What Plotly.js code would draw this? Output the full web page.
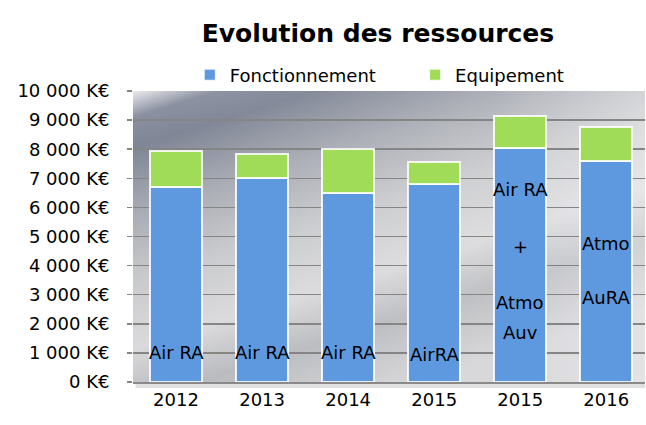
<!DOCTYPE html>
<html>
<head>
<meta charset="utf-8">
<script src="https://cdn.plot.ly/plotly-3.0.1.min.js"></script>
<style>html,body{margin:0;padding:0;background:#fff;}</style>
</head>
<body>
<div id="chart" style="width:646px;height:425px;"></div>
<script>
// ---- data ----
var categories = ["2012", "2013", "2014", "2015", "2015", "2016"];
var fonctionnement = [6700, 7000, 6500, 6800, 8050, 7600];
var equipement = [1250, 850, 1500, 750, 1100, 1150];
var seriesNames = ["Fonctionnement", "Equipement"];
var yTicks = [0, 1000, 2000, 3000, 4000, 5000, 6000, 7000, 8000, 9000, 10000];
var yTickText = ["0 K€", "1 000 K€", "2 000 K€", "3 000 K€", "4 000 K€", "5 000 K€",
                 "6 000 K€", "7 000 K€", "8 000 K€", "9 000 K€", "10 000 K€"];

// labels written inside the bars: [category index, y value, text]
var labelIndex = [0, 1, 2, 3, 4, 4, 4, 4, 5, 5];
var labelY = [1030, 1030, 1030, 930, 6600, 4650, 2720, 1690, 4750, 2890];
var labelText = ["Air RA", "Air RA", "Air RA", "AirRA", "Air RA", "+", "Atmo", "Auv", "Atmo", "AuRA"];

var idx = categories.map(function (c, i) { return i; });

var FONT = "DejaVu Sans, Verdana, sans-serif";
var blue = "#5E99E0";
var green = "#A0DC58";

var traces = [
  {
    type: "bar", name: seriesNames[0], x: idx, y: fonctionnement,
    width: 0.6, legend: "legend",
    marker: { color: blue, line: { color: "rgba(255,255,255,0.85)", width: 2 } },
    hoverinfo: "skip"
  },
  {
    type: "bar", name: seriesNames[1], x: idx, y: equipement,
    width: 0.6, legend: "legend2",
    marker: { color: green, line: { color: "rgba(255,255,255,0.85)", width: 2 } },
    hoverinfo: "skip"
  }
];

var bgSvg = '<svg xmlns="http://www.w3.org/2000/svg" viewBox="0 0 100 100" preserveAspectRatio="none">' +
  '<defs>' +
  '<linearGradient id="g" x1="0" y1="0" x2="0.55" y2="1">' +
  '<stop offset="0" stop-color="#ececee"/>' +
  '<stop offset="0.07" stop-color="#8a90a0"/>' +
  '<stop offset="0.15" stop-color="#7f8595"/>' +
  '<stop offset="0.32" stop-color="#a8abb3"/>' +
  '<stop offset="0.5" stop-color="#c9cacd"/>' +
  '<stop offset="0.68" stop-color="#dadadc"/>' +
  '<stop offset="0.82" stop-color="#b9babe"/>' +
  '<stop offset="1" stop-color="#d4d4d6"/>' +
  '</linearGradient>' +
  '<linearGradient id="h" x1="0" y1="0" x2="1" y2="0">' +
  '<stop offset="0" stop-color="#ffffff" stop-opacity="0"/>' +
  '<stop offset="0.7" stop-color="#ffffff" stop-opacity="0.1"/>' +
  '<stop offset="1" stop-color="#ffffff" stop-opacity="0.35"/>' +
  '</linearGradient>' +
  '</defs>' +
  '<rect x="0" y="0" width="100" height="100" fill="url(#g)"/>' +
  '<rect x="0" y="0" width="100" height="100" fill="url(#h)"/>' +
  '</svg>';
var bgUri = "data:image/svg+xml;charset=utf-8," + encodeURIComponent(bgSvg);

var annotations = labelText.map(function (t, i) {
  return {
    x: labelIndex[i], y: labelY[i], xref: "x", yref: "y",
    text: t, showarrow: false,
    font: { family: FONT, size: 18, color: "#000" }
  };
});

var legendFont = { family: FONT, size: 18, color: "#000" };

var layout = {
  width: 646, height: 425,
  margin: { l: 133, r: 1, t: 91, b: 43, pad: 0 },
  paper_bgcolor: "#ffffff",
  plot_bgcolor: "rgba(0,0,0,0)",
  barmode: "stack",
  showlegend: true,
  title: {
    text: "<b>Evolution des ressources</b>",
    font: { family: FONT, size: 25, color: "#000" },
    x: 0.585, xanchor: "center", xref: "container",
    y: 0.922, yanchor: "middle", yref: "container"
  },
  legend: {
    orientation: "h", x: 0.111, xanchor: "left", y: 1.055, yanchor: "middle",
    font: legendFont, bgcolor: "rgba(0,0,0,0)"
  },
  legend2: {
    orientation: "h", x: 0.551, xanchor: "left", y: 1.055, yanchor: "middle",
    font: legendFont, bgcolor: "rgba(0,0,0,0)"
  },
  xaxis: {
    range: [-0.5, 5.45],
    tickvals: idx, ticktext: categories,
    showgrid: false, zeroline: false,
    showline: true, linecolor: "#8a8a8a", linewidth: 2,
    ticks: "", fixedrange: true,
    tickfont: { family: FONT, size: 18, color: "#000" }
  },
  yaxis: {
    range: [0, 10000],
    tickmode: "array", tickvals: yTicks, ticktext: yTickText,
    showgrid: true, gridcolor: "#858585", gridwidth: 1.5,
    zeroline: false, showline: false,
    ticks: "outside", ticklen: 5, tickcolor: "#858585", tickwidth: 1.5,
    ticklabelstandoff: 14,
    fixedrange: true,
    tickfont: { family: FONT, size: 18, color: "#000" }
  },
  images: [{
    source: bgUri, xref: "paper", yref: "paper",
    x: 0, y: 1, sizex: 1, sizey: 1, sizing: "stretch",
    xanchor: "left", yanchor: "top", layer: "below"
  }],
  shapes: [{
    type: "line", xref: "paper", yref: "paper",
    x0: 0.005, x1: 1, y0: -0.012, y1: -0.012,
    line: { color: "rgba(0,0,0,0.12)", width: 5 }, layer: "below"
  }],
  annotations: annotations
};

Plotly.newPlot("chart", traces, layout, { displayModeBar: false, staticPlot: true });
</script>
</body>
</html>
